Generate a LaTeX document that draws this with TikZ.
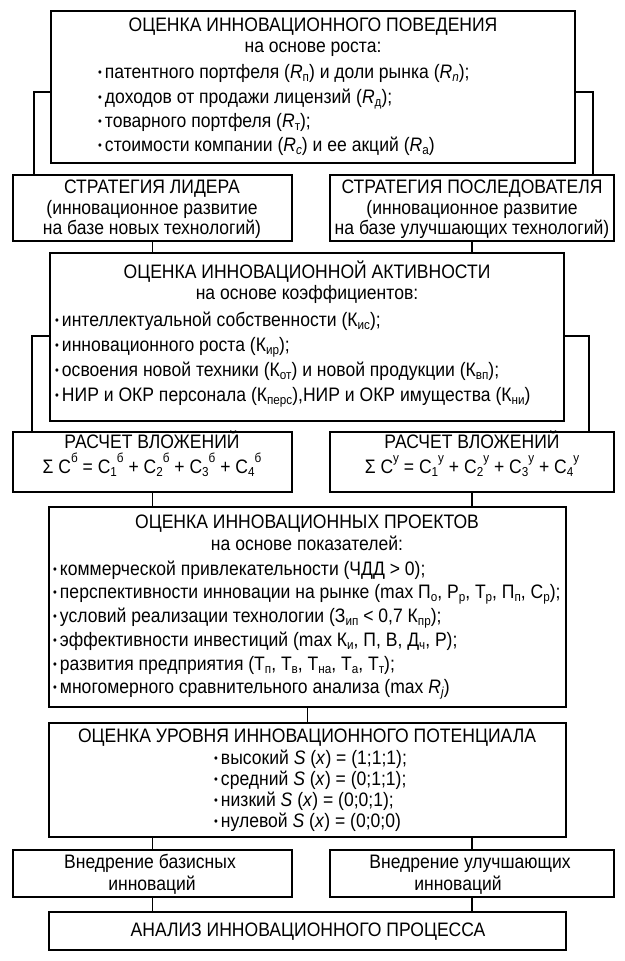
\documentclass[tikz,border=0pt]{standalone}
\usepackage{fontspec}
\setmainfont[FakeStretch=0.9]{Liberation Sans}
\newcommand\lw[1]{\raisebox{-0.35ex}{\fontsize{13}{13}\selectfont #1}}
\newcommand\hi[1]{\raisebox{1.0ex}{\fontsize{13}{13}\selectfont #1}}
\newcommand\bul{\raisebox{0.15ex}{\fontsize{12}{12}\selectfont •}\hspace{3pt}}
\begin{document}
\begin{tikzpicture}[x=1pt,y=-1pt,
  box/.style={draw, line width=1.6pt, inner sep=0pt, outer sep=0pt, anchor=north west},
  link/.style={line width=1.6pt},
  tc/.style={inner sep=0pt, anchor=base, font=\fontsize{19.5}{21}\selectfont},
  tl/.style={inner sep=0pt, anchor=base west, font=\fontsize{19.5}{21}\selectfont}]
\useasboundingbox (0,0) rectangle (624,961);
% boxes
\node[box, minimum width=524pt, minimum height=152pt] (b1) at (51,11) {};
\node[box, minimum width=279pt, minimum height=66pt] (sL) at (13,175) {};
\node[box, minimum width=284pt, minimum height=66pt] (sR) at (330,175) {};
\node[box, minimum width=514pt, minimum height=168pt] (act) at (50,253) {};
\node[box, minimum width=279pt, minimum height=60pt] (cL) at (13,432) {};
\node[box, minimum width=284pt, minimum height=60pt] (cR) at (330,432) {};
\node[box, minimum width=517pt, minimum height=200pt] (proj) at (49,507) {};
\node[box, minimum width=517pt, minimum height=114pt] (pot) at (49,723) {};
\node[box, minimum width=279pt, minimum height=47pt] (iL) at (13,850) {};
\node[box, minimum width=284pt, minimum height=47pt] (iR) at (330,850) {};
\node[box, minimum width=517pt, minimum height=38pt] (fin) at (49,912) {};
% connectors
\draw[link] (b1.west |- 0,92) -| (sL.north -| 34,0);
\draw[link] (b1.east |- 0,92) -| (sR.north -| 593,0);
\draw[link] (sL.south) -- (act.north -| sL.south);
\draw[link] (sR.south) -- (act.north -| sR.south);
\draw[link] (act.west |- 0,336) -| (cL.north -| 32,0);
\draw[link] (act.east |- 0,336) -| (cR.north -| 589,0);
\draw[link] (cL.south) -- (proj.north -| cL.south);
\draw[link] (cR.south) -- (proj.north -| cR.south);
\draw[link] (proj.south) -- (pot.north);
\draw[link] (pot.south -| iL.north) -- (iL.north);
\draw[link] (pot.south -| iR.north) -- (iR.north);
\draw[link] (iL.south) -- (fin.north -| iL.south);
\draw[link] (iR.south) -- (fin.north -| iR.south);
% top box text
\node[tc] (t1a) at (313,31) {ОЦЕНКА ИННОВАЦИОННОГО ПОВЕДЕНИЯ};
\node[tc] (t1b) at (313,52) {на основе роста:};
\node[tl] (t1c) at (98,78) {\bul патентного портфеля (\textit{R}\lw{п}) и доли рынка (\textit{R}\lw{\textit{n}});};
\node[tl] (t1d) at (98,103) {\bul доходов от продажи лицензий (\textit{R}\lw{д});};
\node[tl] (t1e) at (98,127) {\bul товарного портфеля (\textit{R}\lw{т});};
\node[tl] (t1f) at (98,151) {\bul стоимости компании (\textit{R}\lw{\textit{c}}) и ее акций (\textit{R}\lw{а})};
% strategies
\node[tc] (t2a) at (152,193) {СТРАТЕГИЯ ЛИДЕРА};
\node[tc] (t2b) at (152,214) {(инновационное развитие};
\node[tc] (t2c) at (152,234) {на базе новых технологий)};
\node[tc] (t3a) at (472,193) {СТРАТЕГИЯ ПОСЛЕДОВАТЕЛЯ};
\node[tc] (t3b) at (472,214) {(инновационное развитие};
\node[tc] (t3c) at (472,234) {на базе улучшающих технологий)};
% activity
\node[tc] (t4a) at (307,278) {ОЦЕНКА ИННОВАЦИОННОЙ АКТИВНОСТИ};
\node[tc] (t4b) at (307,299) {на основе коэффициентов:};
\node[tl] (t4c) at (55,326) {\bul интеллектуальной собственности (К\lw{ис});};
\node[tl] (t4d) at (55,351) {\bul инновационного роста (К\lw{ир});};
\node[tl] (t4e) at (55,376) {\bul освоения новой техники (К\lw{от}) и новой продукции (К\lw{вп});};
\node[tl] (t4f) at (55,401) {\bul НИР и ОКР персонала (К\lw{перс}),НИР и ОКР имущества (К\lw{ни})};
% calc
\node[tc] (t5a) at (152,448) {РАСЧЕТ ВЛОЖЕНИЙ};
\node[tc] (t5b) at (152,473) {Σ С\hi{б} = С\lw{1}\hi{б} + С\lw{2}\hi{б} + С\lw{3}\hi{б} + С\lw{4}\hi{б}};
\node[tc] (t6a) at (472,448) {РАСЧЕТ ВЛОЖЕНИЙ};
\node[tc] (t6b) at (472,473) {Σ С\hi{у} = С\lw{1}\hi{у} + С\lw{2}\hi{у} + С\lw{3}\hi{у} + С\lw{4}\hi{у}};
% projects
\node[tc] (t7a) at (307,528) {ОЦЕНКА ИННОВАЦИОННЫХ ПРОЕКТОВ};
\node[tc] (t7b) at (307,550) {на основе показателей:};
\node[tl] (t7c) at (53,575) {\bul коммерческой привлекательности (ЧДД > 0);};
\node[tl] (t7d) at (53,598) {\bul перспективности инновации на рынке (max П\lw{о}, Р\lw{р}, Т\lw{р}, П\lw{п}, С\lw{р});};
\node[tl] (t7e) at (53,622) {\bul условий реализации технологии (З\lw{ип} < 0,7 К\lw{пр});};
\node[tl] (t7f) at (53,646) {\bul эффективности инвестиций (max К\lw{и}, П, В, Д\lw{ч}, Р);};
\node[tl] (t7g) at (53,670) {\bul развития предприятия (Т\lw{п}, Т\lw{в}, Т\lw{на}, Т\lw{а}, Т\lw{т});};
\node[tl] (t7h) at (53,693) {\bul многомерного сравнительного анализа (max \textit{R}\lw{\textit{j}})};
% potential
\node[tc] (t8a) at (307,742) {ОЦЕНКА УРОВНЯ ИННОВАЦИОННОГО ПОТЕНЦИАЛА};
\node[tl] (t8b) at (214,764) {\bul высокий \textit{S} (\textit{x}) = (1;1;1);};
\node[tl] (t8c) at (214,785) {\bul средний \textit{S} (\textit{x}) = (0;1;1);};
\node[tl] (t8d) at (214,806) {\bul низкий \textit{S} (\textit{x}) = (0;0;1);};
\node[tl] (t8e) at (214,827) {\bul нулевой \textit{S} (\textit{x}) = (0;0;0)};
% implementation
\node[tc] (t9a) at (150,868) {Внедрение базисных};
\node[tc] (t9b) at (152,890) {инноваций};
\node[tc] (t10a) at (470,868) {Внедрение улучшающих};
\node[tc] (t10b) at (458,890) {инноваций};
% final
\node[tc] (t11) at (308,936) {АНАЛИЗ ИННОВАЦИОННОГО ПРОЦЕССА};
\end{tikzpicture}
\end{document}
